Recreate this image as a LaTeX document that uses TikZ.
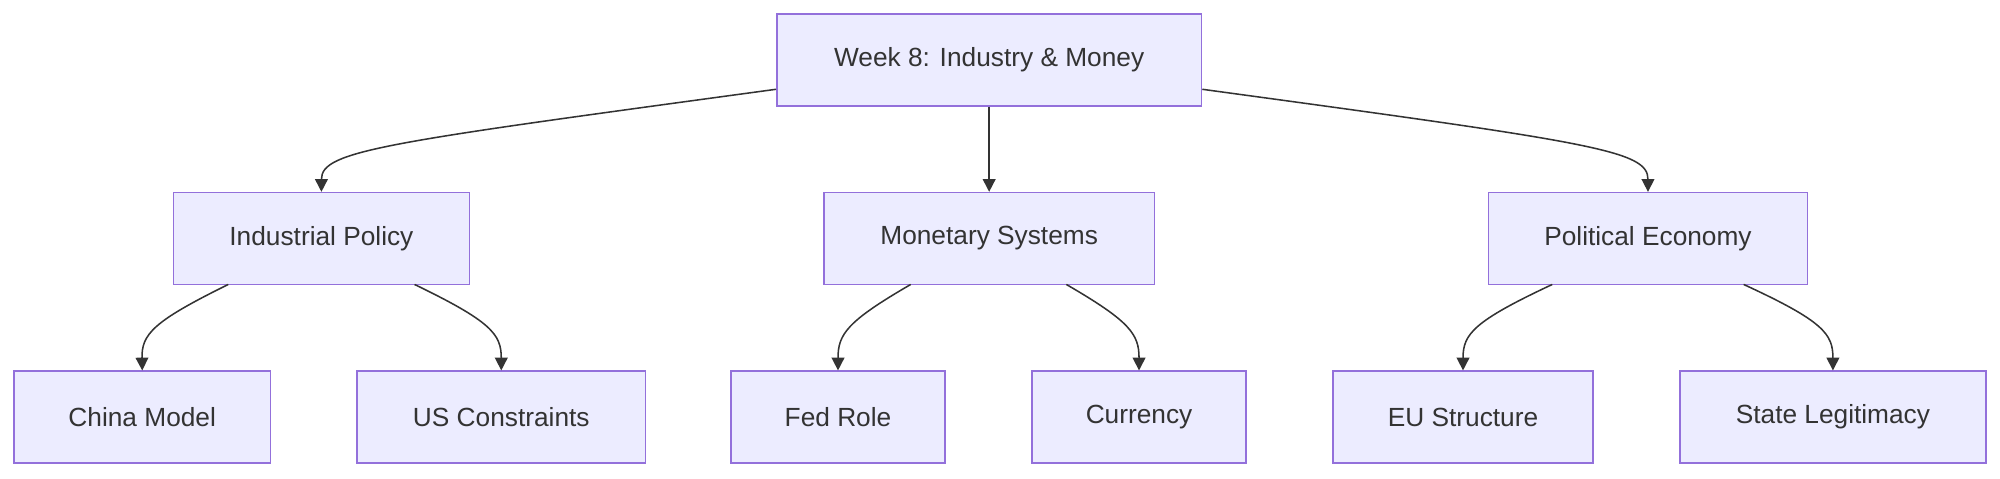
\documentclass[tikz,border=0pt]{standalone}
\usepackage{fontspec}
\setmainfont{Liberation Sans}
\usetikzlibrary{arrows.meta}
\definecolor{nfill}{HTML}{ECECFF}
\definecolor{nstroke}{HTML}{9370DB}
\definecolor{ink}{HTML}{333333}
\begin{document}
\begin{tikzpicture}[x=0.5pt,y=-0.5pt,
  box/.style={draw=nstroke,fill=nfill,line width=0.6pt,inner sep=0pt,text=ink,
    font=\fontsize{10.3}{12}\selectfont},
  edge/.style={draw=ink,line width=0.6pt,-{Triangle[length=5pt,width=5pt]}}]
\useasboundingbox (0,0) rectangle (1568,375);
\node[box,minimum width=333*0.5pt,minimum height=72*0.5pt] (top) at (775.5,47) {Week 8: Industry \& Money};
\node[box,minimum width=232*0.5pt,minimum height=72*0.5pt] (ind) at (252,187) {Industrial Policy};
\node[box,minimum width=259*0.5pt,minimum height=72*0.5pt] (mon) at (775.5,187) {Monetary Systems};
\node[box,minimum width=250*0.5pt,minimum height=72*0.5pt] (pol) at (1292,187) {Political Economy};
\node[box,minimum width=201*0.5pt,minimum height=72*0.5pt] (chi) at (111.5,327) {China Model};
\node[box,minimum width=226*0.5pt,minimum height=72*0.5pt] (us) at (393,327) {US Constraints};
\node[box,minimum width=168*0.5pt,minimum height=72*0.5pt] (fed) at (657,327) {Fed Role};
\node[box,minimum width=168*0.5pt,minimum height=72*0.5pt] (cur) at (893,327) {Currency};
\node[box,minimum width=204*0.5pt,minimum height=72*0.5pt] (eu) at (1147,327) {EU Structure};
\node[box,minimum width=240*0.5pt,minimum height=72*0.5pt] (sta) at (1437,327) {State Legitimacy};
\draw[edge] (top.west |- 0,70) .. controls (300,112) and (252,118) .. (ind.north);
\draw[edge] (top.east |- 0,70) .. controls (1251,112) and (1292,118) .. (pol.north);
\draw[edge] (top) -- (mon);
\draw[edge] (179,223) .. controls (120,252) and (111,262) .. (chi.north);
\draw[edge] (325,223) .. controls (385,252) and (393,262) .. (us.north);
\draw[edge] (714,223) .. controls (664,252) and (657,262) .. (fed.north);
\draw[edge] (836,223) .. controls (886,252) and (893,262) .. (cur.north);
\draw[edge] (1217,223) .. controls (1155,252) and (1147,262) .. (eu.north);
\draw[edge] (1367,223) .. controls (1430,252) and (1437,262) .. (sta.north);
\end{tikzpicture}
\end{document}
